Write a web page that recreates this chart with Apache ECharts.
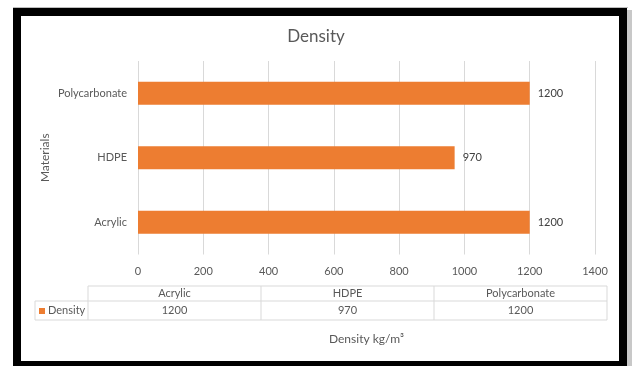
<!DOCTYPE html>
<html>
<head>
<meta charset="utf-8">
<script src="https://cdn.jsdelivr.net/npm/echarts@6/dist/echarts.min.js"></script>
<style>
  html, body { margin: 0; padding: 0; background: #ffffff; }
  #chart { width: 632px; height: 366px; }
</style>
</head>
<body>
<div id="chart"></div>
<script>
// Materials and their densities (kg/m³)
const categories = ['Acrylic', 'HDPE', 'Polycarbonate'];
const densityValues = [1200, 970, 1200];
const seriesName = 'Density';
const xTicks = { min: 0, max: 1400, interval: 200 };

const FONT = 'Lato, "Open Sans", sans-serif';
const TEXT = '#595959';
const GRID = '#d9d9d9';
const ORANGE = '#ED7D31';

const chart = echarts.init(document.getElementById('chart'), null, { renderer: 'canvas' });

// Data table under the axis, built from the same arrays
const table = { left: 88, right: 607, keyLeft: 35, headTop: 286, rowTop: 301, bottom: 320 };
const colW = (table.right - table.left) / categories.length;
const tableEls = [];
const line = (x1, y1, x2, y2) => ({
  type: 'line', silent: true,
  shape: { x1, y1, x2, y2 },
  style: { stroke: GRID, lineWidth: 1 }
});
tableEls.push(line(table.left, table.headTop, table.right, table.headTop));
tableEls.push(line(table.keyLeft, table.rowTop, table.right, table.rowTop));
tableEls.push(line(table.keyLeft, table.bottom, table.right, table.bottom));
tableEls.push(line(table.keyLeft, table.rowTop, table.keyLeft, table.bottom));
for (let i = 0; i <= categories.length; i++) {
  const x = table.left + i * colW;
  tableEls.push(line(x, table.headTop, x, table.bottom));
}
categories.forEach((c, i) => {
  const cx = table.left + (i + 0.5) * colW;
  tableEls.push({
    type: 'text', silent: true, x: cx, y: (table.headTop + table.rowTop) / 2,
    style: { text: c, fill: TEXT, font: '11px ' + FONT, align: 'center', verticalAlign: 'middle' }
  });
  tableEls.push({
    type: 'text', silent: true, x: cx, y: (table.rowTop + table.bottom) / 2,
    style: { text: String(densityValues[i]), fill: TEXT, font: '11px ' + FONT, align: 'center', verticalAlign: 'middle' }
  });
});
tableEls.push({
  type: 'rect', silent: true,
  shape: { x: 39, y: 308, width: 6, height: 6 },
  style: { fill: ORANGE }
});
tableEls.push({
  type: 'text', silent: true, x: 48, y: (table.rowTop + table.bottom) / 2,
  style: { text: seriesName, fill: TEXT, font: '11px ' + FONT, align: 'left', verticalAlign: 'middle' }
});

// Black frame around the chart area
const frameEls = [
  { type: 'rect', silent: true, shape: { x: 13, y: 7, width: 615, height: 1 }, style: { fill: '#bdbdbd' } },
  { type: 'rect', silent: true, shape: { x: 627, y: 10, width: 5, height: 356 }, style: { fill: '#c8c8c8' } },
  { type: 'rect', silent: true, shape: { x: 13, y: 8, width: 614, height: 8 }, style: { fill: '#000' } },
  { type: 'rect', silent: true, shape: { x: 13, y: 8, width: 8, height: 358 }, style: { fill: '#000' } },
  { type: 'rect', silent: true, shape: { x: 619, y: 8, width: 8, height: 358 }, style: { fill: '#000' } },
  { type: 'rect', silent: true, shape: { x: 13, y: 361, width: 614, height: 5 }, style: { fill: '#000' } }
];

chart.setOption({
  animation: false,
  backgroundColor: '#ffffff',
  textStyle: { fontFamily: FONT },
  title: {
    text: 'Density',
    left: 'center',
    top: 23,
    textStyle: { color: TEXT, fontSize: 17, fontWeight: 'normal', fontFamily: FONT }
  },
  grid: { left: 138, right: 37, top: 61, bottom: 111.5, containLabel: false },
  xAxis: {
    type: 'value',
    min: xTicks.min,
    max: xTicks.max,
    interval: xTicks.interval,
    axisLine: { show: false },
    axisTick: { show: false },
    axisLabel: { color: TEXT, fontSize: 11, margin: 11, fontFamily: FONT, formatter: v => String(v) },
    splitLine: { show: true, lineStyle: { color: GRID, width: 1 } },
    name: 'Density kg/m³',
    nameLocation: 'middle',
    nameGap: 79,
    nameMoveOverlap: false,
    nameTextStyle: { color: TEXT, fontSize: 12, fontFamily: FONT }
  },
  yAxis: {
    type: 'category',
    data: categories,
    axisLine: { show: false },
    axisTick: { show: false },
    axisLabel: { color: TEXT, fontSize: 11, margin: 11, fontFamily: FONT },
    splitLine: { show: false },
    name: 'Materials',
    nameLocation: 'middle',
    nameRotate: 90,
    nameGap: 87,
    nameMoveOverlap: false,
    nameTextStyle: { color: TEXT, fontSize: 12, fontFamily: FONT }
  },
  series: [{
    name: seriesName,
    type: 'bar',
    data: densityValues,
    barWidth: 23,
    itemStyle: { color: ORANGE },
    label: {
      show: true,
      position: 'right',
      distance: 8,
      color: '#404040',
      fontSize: 11,
      fontFamily: FONT
    }
  }],
  graphic: { elements: tableEls.concat(frameEls) }
});
</script>
</body>
</html>
